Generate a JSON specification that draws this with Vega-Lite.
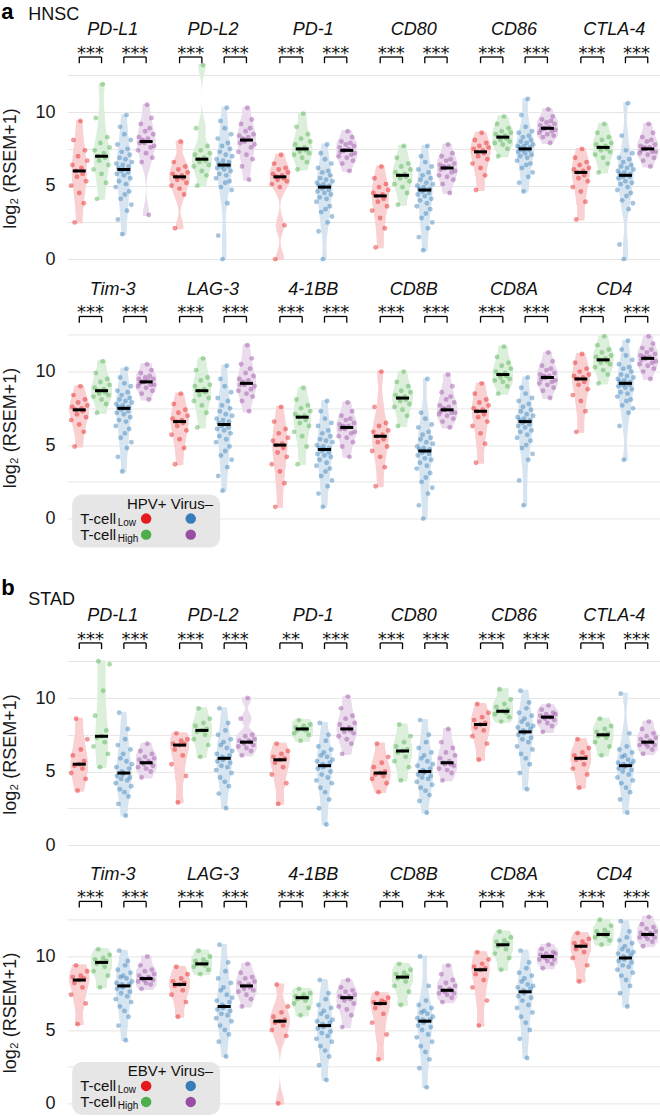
{
"$schema": "https://vega.github.io/schema/vega-lite/v6.json",
"padding": {"left": 1, "top": 0, "right": 0, "bottom": 0},
"bounds": "flush",
"spacing": 6.46,
"datasets": {
"pts": [
{"r":1,"k":"1a","s":"p0","v":[5.0,6.4,8.1,2.5,6.0,5.6,7.0,4.5,9.4,6.2,5.8,3.8,7.4,5.3,6.7]},
{"r":1,"k":"1b","s":"p1","v":[6.1,7.4,9.6,4.1,7.0,6.7,7.9,5.8,11.9,7.2,6.9,5.2,8.3,6.4,7.6]},
{"r":1,"k":"1c","s":"n0","v":[4.9,6.5,5.8,7.8,2.7,6.2,5.3,6.9,9.0,4.1,6.0,7.3,1.7,6.4,6.1,5.7,8.5,4.4,6.8,5.1,9.8,3.3,7.5,5.9,6.3,4.6,7.1,5.5,8.1,3.7,6.6]},
{"r":1,"k":"1d","s":"n1","v":[7.4,8.3,7.9,9.2,6.6,8.1,8.0,7.9,8.7,7.2,10.5,8.2,3.0,8.9,7.6,9.6,6.9,8.5,7.7]},
{"r":1,"k":"2a","s":"p0","v":[5.0,5.8,6.6,2.1,5.6,5.4,6.1,4.8,8.0,5.7,5.5,4.4,6.3,5.2,5.9]},
{"r":1,"k":"2b","s":"p1","v":[6.3,7.1,8.9,5.0,6.8,6.6,7.4,6.0,13.2,6.9,6.7,5.7,7.7,6.4,7.2]},
{"r":1,"k":"2c","s":"n0","v":[5.5,6.8,6.2,8.2,1.6,6.5,5.8,7.3,9.4,4.9,6.3,7.7,0.0,6.7,6.4,6.1,8.9,5.2,7.1,5.7,10.3,3.8,7.9,6.3,6.6,5.3,7.5,6.0,8.5,4.7,7.0]},
{"r":1,"k":"2d","s":"n1","v":[7.3,8.4,7.9,9.2,6.3,8.2,8.1,8.0,8.7,7.1,10.3,8.3,5.4,8.9,7.6,9.5,6.8,8.5,7.8]},
{"r":1,"k":"3a","s":"p0","v":[5.1,5.8,6.5,0.0,5.6,5.4,6.1,4.9,7.1,5.7,5.5,2.3,6.2,5.3,5.9]},
{"r":1,"k":"3b","s":"p1","v":[7.1,7.8,9.0,6.1,7.5,7.3,8.2,6.9,9.9,7.6,7.4,6.6,8.5,7.2,8.0]},
{"r":1,"k":"3c","s":"n0","v":[3.9,5.2,4.6,6.2,1.9,5.0,4.2,5.5,7.2,3.2,4.8,5.9,0.0,5.1,4.9,4.5,6.8,3.4,5.4,4.1,7.8,2.5,6.0,4.7,5.0,3.6,5.7,4.4,6.5,2.9,5.3]},
{"r":1,"k":"3d","s":"n1","v":[7.0,7.6,7.3,8.0,6.5,7.4,7.4,7.4,7.8,6.9,8.7,7.5,6.0,7.9,7.1,8.3,6.7,7.7,7.2]},
{"r":1,"k":"4a","s":"p0","v":[3.3,4.5,5.5,0.8,4.3,3.9,4.9,2.8,6.3,4.4,4.1,2.1,5.1,3.6,4.7]},
{"r":1,"k":"4b","s":"p1","v":[5.1,5.9,6.9,3.7,5.7,5.5,6.3,4.9,7.7,5.8,5.6,4.5,6.5,5.3,6.1]},
{"r":1,"k":"4c","s":"n0","v":[3.6,5.0,4.4,6.1,1.5,4.8,4.0,5.4,7.0,2.8,4.6,5.7,0.6,4.9,4.7,4.3,6.6,3.1,5.2,3.8,7.7,2.1,5.9,4.5,4.8,3.4,5.5,4.1,6.3,2.5,5.1]},
{"r":1,"k":"4d","s":"n1","v":[5.7,6.4,6.1,7.0,5.1,6.3,6.2,6.2,6.7,5.6,7.8,6.3,4.5,6.8,5.9,7.2,5.4,6.5,6.0]},
{"r":1,"k":"5a","s":"p0","v":[6.5,7.5,8.1,4.7,7.3,7.0,7.7,6.2,8.6,7.4,7.2,5.7,7.9,6.8,7.6]},
{"r":1,"k":"5b","s":"p1","v":[7.9,8.5,9.2,7.0,8.3,8.1,8.7,7.8,9.7,8.4,8.2,7.5,8.9,8.0,8.6]},
{"r":1,"k":"5c","s":"n0","v":[6.7,7.7,7.3,8.6,5.2,7.6,7.0,8.0,9.8,6.2,7.4,8.3,4.6,7.7,7.5,7.2,9.0,6.4,7.9,6.9,10.9,5.6,8.4,7.4,7.6,6.5,8.1,7.1,8.7,5.9,7.8]},
{"r":1,"k":"5d","s":"n1","v":[8.6,9.1,8.8,9.5,8.3,8.9,8.9,8.9,9.3,8.5,10.2,9.0,7.9,9.4,8.7,9.7,8.4,9.2,8.8]},
{"r":1,"k":"6a","s":"p0","v":[4.9,6.1,6.9,2.7,5.9,5.5,6.4,4.6,7.5,6.0,5.7,3.9,6.6,5.3,6.2]},
{"r":1,"k":"6b","s":"p1","v":[7.1,7.8,8.6,5.9,7.6,7.4,8.1,6.9,9.2,7.7,7.5,6.5,8.3,7.3,7.9]},
{"r":1,"k":"6c","s":"n0","v":[4.7,6.0,5.5,6.9,1.0,5.8,5.1,6.3,8.4,4.0,5.6,6.6,0.0,5.9,5.7,5.3,7.4,4.3,6.2,4.9,10.6,3.4,6.8,5.6,5.8,4.5,6.4,5.2,7.2,3.8,6.1]},
{"r":1,"k":"6d","s":"n1","v":[7.2,7.7,7.4,8.3,6.7,7.6,7.5,7.5,8.0,7.1,9.2,7.6,6.3,8.1,7.3,8.6,6.9,7.8,7.3]},
{"r":2,"k":"1a","s":"p0","v":[6.7,7.6,8.4,4.9,7.4,7.1,7.9,6.4,9.0,7.5,7.3,5.9,8.1,6.9,7.7]},
{"r":2,"k":"1b","s":"p1","v":[8.3,8.9,9.9,7.2,8.7,8.5,9.3,8.1,10.7,8.8,8.6,7.8,9.5,8.4,9.1]},
{"r":2,"k":"1c","s":"n0","v":[6.3,7.8,7.2,8.7,4.2,7.6,6.7,8.1,9.6,5.5,7.4,8.4,3.2,7.7,7.5,7.1,9.2,5.8,8.0,6.6,10.2,4.8,8.6,7.3,7.6,6.1,8.2,6.9,9.0,5.2,7.9]},
{"r":2,"k":"1d","s":"n1","v":[9.0,9.5,9.2,9.9,8.5,9.3,9.3,9.3,9.6,8.9,10.5,9.4,8.1,9.7,9.1,10.1,8.7,9.5,9.1]},
{"r":2,"k":"2a","s":"p0","v":[5.7,6.8,7.8,3.7,6.6,6.3,7.2,5.4,8.5,6.7,6.5,4.8,7.4,6.0,7.0]},
{"r":2,"k":"2b","s":"p1","v":[8.0,9.0,10.1,6.2,8.7,8.4,9.4,7.7,10.9,8.8,8.6,7.2,9.6,8.2,9.1]},
{"r":2,"k":"2c","s":"n0","v":[5.2,6.8,6.1,8.2,2.9,6.5,5.6,7.3,9.5,4.3,6.3,7.7,1.9,6.7,6.4,6.0,9.0,4.6,7.1,5.4,10.4,3.5,8.0,6.2,6.6,4.9,7.5,5.8,8.6,4.0,7.0]},
{"r":2,"k":"2d","s":"n1","v":[8.7,9.5,9.1,10.5,8.0,9.3,9.2,9.1,9.9,8.5,11.8,9.4,7.3,10.2,8.8,10.9,8.3,9.7,9.0]},
{"r":2,"k":"3a","s":"p0","v":[3.7,5.3,6.6,0.8,5.0,4.5,5.8,3.2,7.6,5.1,4.8,2.4,6.1,4.2,5.5]},
{"r":2,"k":"3b","s":"p1","v":[5.9,7.1,8.1,3.7,6.9,6.5,7.5,5.6,8.9,7.0,6.7,4.9,7.7,6.3,7.3]},
{"r":2,"k":"3c","s":"n0","v":[3.6,5.0,4.4,6.3,1.7,4.8,4.0,5.4,7.3,2.9,4.6,5.8,0.8,4.9,4.7,4.3,6.8,3.2,5.3,3.8,8.0,2.2,6.0,4.5,4.8,3.4,5.6,4.2,6.5,2.6,5.2]},
{"r":2,"k":"3d","s":"n1","v":[5.6,6.4,6.1,7.0,4.9,6.3,6.2,6.1,6.7,5.5,7.9,6.3,4.2,6.8,5.8,7.3,5.2,6.5,5.9]},
{"r":2,"k":"4a","s":"p0","v":[4.6,5.9,7.6,2.2,5.6,5.2,6.3,4.2,10.0,5.7,5.4,3.5,6.5,4.9,6.0]},
{"r":2,"k":"4b","s":"p1","v":[7.6,8.4,9.3,6.3,8.2,8.0,8.7,7.4,10.0,8.3,8.1,7.0,9.0,7.8,8.6]},
{"r":2,"k":"4c","s":"n0","v":[3.4,4.9,4.3,6.2,0.9,4.7,3.8,5.4,7.2,2.5,4.5,5.7,0.0,4.8,4.6,4.1,6.8,2.8,5.2,3.6,9.5,1.7,5.9,4.4,4.7,3.1,5.5,4.0,6.4,2.1,5.1]},
{"r":2,"k":"4d","s":"n1","v":[7.1,7.7,7.3,8.6,6.6,7.5,7.4,7.4,8.1,7.0,9.8,7.6,6.2,8.3,7.2,9.0,6.8,7.9,7.2]},
{"r":2,"k":"5a","s":"p0","v":[6.3,7.5,8.5,3.8,7.3,6.9,7.9,5.8,9.2,7.4,7.1,5.1,8.1,6.6,7.7]},
{"r":2,"k":"5b","s":"p1","v":[9.4,10.0,11.0,8.5,9.8,9.6,10.4,9.3,11.7,9.9,9.7,9.0,10.6,9.5,10.2]},
{"r":2,"k":"5c","s":"n0","v":[5.5,6.9,6.3,8.0,2.6,6.7,5.9,7.3,8.9,4.8,6.5,7.6,0.9,6.8,6.6,6.2,8.5,5.0,7.1,5.7,9.6,4.0,7.8,6.4,6.7,5.3,7.4,6.0,8.2,4.4,7.0]},
{"r":2,"k":"5d","s":"n1","v":[9.2,9.8,9.5,10.4,8.7,9.7,9.6,9.6,10.1,9.1,11.3,9.7,8.2,10.2,9.3,10.7,8.9,9.9,9.4]},
{"r":2,"k":"6a","s":"p0","v":[8.4,9.7,10.6,5.9,9.5,9.1,10.0,8.0,11.2,9.6,9.3,7.3,10.2,8.8,9.8]},
{"r":2,"k":"6b","s":"p1","v":[10.3,11.0,11.8,9.2,10.8,10.6,11.3,10.1,12.4,10.9,10.7,9.8,11.5,10.5,11.1]},
{"r":2,"k":"6c","s":"n0","v":[8.3,9.5,9.0,10.5,6.3,9.3,8.6,9.8,11.5,7.7,9.1,10.2,4.0,9.4,9.2,8.9,11.1,8.0,9.7,8.5,12.1,7.2,10.3,9.1,9.3,8.1,10.0,8.8,10.8,7.5,9.6]},
{"r":2,"k":"6d","s":"n1","v":[10.5,11.1,10.8,11.6,10.0,11.0,10.9,10.9,11.3,10.4,12.4,11.0,9.5,11.5,10.6,11.9,10.2,11.2,10.7]},
{"r":3,"k":"1a","s":"p0","v":[4.9,6.1,5.4,8.6,3.7,5.5,6.5,5.2,5.7,4.5,7.2]},
{"r":3,"k":"1b","s":"p1","v":[6.7,8.8,7.3,12.5,5.3,7.4,10.5,7.0,7.8,6.2,12.3]},
{"r":3,"k":"1c","s":"n0","v":[4.2,5.3,4.7,6.8,2.8,9.0,3.8,5.9,4.5,5.0,4.8,6.2,4.9,3.6,7.2,2.0,5.7,4.4,7.9,3.3,5.2,4.6,6.5,4.0,5.5]},
{"r":3,"k":"1d","s":"n1","v":[5.3,5.8,6.4,4.6,5.6,5.5,6.0,5.2,6.9,5.7,5.6,5.0,6.2,5.4,5.9]},
{"r":3,"k":"2a","s":"p0","v":[5.5,6.9,6.5,7.6,2.9,6.8,7.1,6.1,6.9,4.7,7.2]},
{"r":3,"k":"2b","s":"p1","v":[7.2,8.1,7.7,9.3,6.0,7.8,8.3,7.5,7.9,6.8,8.6]},
{"r":3,"k":"2c","s":"n0","v":[5.1,6.2,5.7,7.5,3.5,9.3,4.6,6.8,5.4,6.0,5.8,7.0,5.9,4.3,7.8,2.5,6.6,5.3,8.3,4.0,6.1,5.6,7.2,4.9,6.4]},
{"r":3,"k":"2d","s":"n1","v":[6.7,7.1,8.6,6.1,7.0,6.9,7.4,6.6,10.0,7.1,7.0,6.4,7.5,6.8,7.2]},
{"r":3,"k":"3a","s":"p0","v":[4.8,6.0,5.6,6.9,2.8,5.8,6.2,5.3,5.9,4.2,6.4]},
{"r":3,"k":"3b","s":"p1","v":[7.6,8.0,7.8,8.5,7.1,7.9,8.1,7.8,7.9,7.5,8.2]},
{"r":3,"k":"3c","s":"n0","v":[4.4,5.7,5.2,6.7,2.5,8.3,3.9,6.1,4.8,5.5,5.3,6.3,5.4,3.6,7.1,1.4,6.0,4.6,7.5,3.1,5.6,5.0,6.5,4.2,5.8]},
{"r":3,"k":"3d","s":"n1","v":[7.4,8.2,9.3,6.2,7.9,7.7,8.6,7.2,10.1,8.0,7.8,6.9,8.8,7.6,8.3]},
{"r":3,"k":"4a","s":"p0","v":[4.5,5.3,4.8,6.9,3.6,4.9,5.6,4.7,5.0,4.2,6.0]},
{"r":3,"k":"4b","s":"p1","v":[5.7,6.7,6.3,8.2,4.4,6.4,7.0,6.0,6.5,5.3,7.4]},
{"r":3,"k":"4c","s":"n0","v":[4.3,5.4,4.8,6.6,3.0,8.5,3.9,5.9,4.6,5.1,4.9,6.1,5.0,3.7,7.0,2.2,5.7,4.5,7.5,3.4,5.2,4.7,6.3,4.1,5.5]},
{"r":3,"k":"4d","s":"n1","v":[5.2,5.9,7.0,4.4,5.6,5.5,6.3,5.1,7.9,5.7,5.5,4.9,6.6,5.4,6.1]},
{"r":3,"k":"5a","s":"p0","v":[7.4,8.5,8.0,9.6,5.8,8.2,8.7,7.8,8.3,6.9,9.0]},
{"r":3,"k":"5b","s":"p1","v":[8.9,9.4,9.1,10.6,8.4,9.1,9.6,9.0,9.2,8.7,9.9]},
{"r":3,"k":"5c","s":"n0","v":[6.7,8.0,7.5,9.0,4.9,10.5,6.2,8.4,7.2,7.8,7.6,8.6,7.7,5.9,9.3,3.8,8.2,7.0,9.7,5.5,7.9,7.3,8.8,6.5,8.1]},
{"r":3,"k":"5d","s":"n1","v":[8.4,8.8,9.2,7.7,8.7,8.6,8.9,8.3,9.5,8.7,8.7,8.1,9.0,8.5,8.9]},
{"r":3,"k":"6a","s":"p0","v":[5.2,6.1,5.8,7.2,3.9,5.9,6.3,5.5,6.0,4.8,6.6]},
{"r":3,"k":"6b","s":"p1","v":[7.0,7.7,7.4,8.6,6.1,7.5,7.9,7.3,7.6,6.7,8.1]},
{"r":3,"k":"6c","s":"n0","v":[4.6,5.6,5.2,6.5,3.1,10.3,4.2,6.0,5.0,5.5,5.3,6.1,5.4,3.9,6.7,2.2,5.8,4.8,7.6,3.6,5.5,5.1,6.3,4.4,5.7]},
{"r":3,"k":"6d","s":"n1","v":[6.8,7.2,7.9,6.2,7.0,6.9,7.4,6.7,8.4,7.1,7.0,6.5,7.6,6.8,7.3]},
{"r":4,"k":"1a","s":"p0","v":[7.4,8.6,8.2,9.4,5.4,8.4,8.7,7.9,8.5,6.8,9.0]},
{"r":4,"k":"1b","s":"p1","v":[9.0,9.8,9.5,10.5,7.9,9.6,9.9,9.3,9.7,8.7,10.1]},
{"r":4,"k":"1c","s":"n0","v":[7.1,8.2,7.8,9.1,5.3,10.4,6.6,8.6,7.5,8.1,7.9,8.7,8.0,6.3,9.4,4.3,8.5,7.3,9.7,5.9,8.1,7.6,8.9,6.9,8.3]},
{"r":4,"k":"1d","s":"n1","v":[8.3,8.7,9.4,7.8,8.5,8.4,9.0,8.2,10.0,8.6,8.5,8.1,9.1,8.4,8.8]},
{"r":4,"k":"2a","s":"p0","v":[7.4,8.3,8.0,9.3,5.9,8.1,8.5,7.7,8.2,6.9,8.8]},
{"r":4,"k":"2b","s":"p1","v":[9.3,9.7,9.5,10.4,8.8,9.5,9.8,9.4,9.6,9.1,10.0]},
{"r":4,"k":"2c","s":"n0","v":[5.8,7.0,6.4,8.5,4.2,10.8,5.3,7.7,6.1,6.7,6.5,7.9,6.6,5.0,9.0,3.2,7.4,6.0,9.6,4.7,6.9,6.3,8.2,5.6,7.2]},
{"r":4,"k":"2d","s":"n1","v":[7.6,8.2,8.9,6.6,8.0,7.8,8.5,7.4,9.5,8.1,7.9,7.1,8.6,7.7,8.3]},
{"r":4,"k":"3a","s":"p0","v":[5.0,5.9,5.5,8.1,0.0,5.6,6.2,5.3,5.7,4.6,6.6]},
{"r":4,"k":"3b","s":"p1","v":[6.8,7.3,7.1,7.8,6.0,7.2,7.4,7.0,7.2,6.5,7.5]},
{"r":4,"k":"3c","s":"n0","v":[4.4,5.6,5.1,6.7,2.6,8.4,3.9,6.1,4.8,5.4,5.2,6.3,5.3,3.6,7.1,1.6,5.9,4.6,7.5,3.2,5.5,4.9,6.5,4.2,5.7]},
{"r":4,"k":"3d","s":"n1","v":[6.6,7.3,7.9,5.2,7.2,7.0,7.6,6.4,8.4,7.3,7.1,6.0,7.7,6.8,7.4]},
{"r":4,"k":"4a","s":"p0","v":[5.5,6.9,6.5,7.5,3.0,6.8,7.0,6.1,6.9,4.7,7.2]},
{"r":4,"k":"4b","s":"p1","v":[8.0,8.8,8.5,9.5,6.7,8.6,8.9,8.3,8.7,7.6,9.1]},
{"r":4,"k":"4c","s":"n0","v":[4.5,5.8,5.3,6.7,2.4,10.0,3.9,6.2,5.0,5.7,5.5,6.3,5.6,3.5,7.0,1.1,6.1,4.7,8.0,3.0,5.7,5.2,6.5,4.2,5.9]},
{"r":4,"k":"4d","s":"n1","v":[7.5,7.9,8.8,6.9,7.7,7.6,8.2,7.4,9.4,7.8,7.7,7.2,8.4,7.5,8.0]},
{"r":4,"k":"5a","s":"p0","v":[7.9,9.3,8.8,10.3,5.3,9.1,9.5,8.4,9.2,7.0,9.8]},
{"r":4,"k":"5b","s":"p1","v":[10.2,11.0,10.7,11.7,9.1,10.8,11.1,10.5,10.9,9.9,11.3]},
{"r":4,"k":"5c","s":"n0","v":[6.5,7.9,7.3,8.9,4.4,10.4,5.9,8.3,7.0,7.7,7.5,8.5,7.6,5.5,9.2,3.1,8.1,6.7,9.6,5.0,7.8,7.2,8.7,6.2,8.0]},
{"r":4,"k":"5d","s":"n1","v":[9.8,10.1,10.5,9.2,10.0,9.9,10.2,9.7,10.8,10.0,10.0,9.5,10.3,9.8,10.2]},
{"r":4,"k":"6a","s":"p0","v":[9.9,10.9,10.5,11.6,8.3,10.7,11.0,10.3,10.8,9.4,11.2]},
{"r":4,"k":"6b","s":"p1","v":[11.3,11.7,11.5,12.5,10.8,11.5,11.8,11.4,11.6,11.1,12.1]},
{"r":4,"k":"6c","s":"n0","v":[9.1,10.2,9.7,11.1,7.5,12.4,8.7,10.5,9.4,10.0,9.8,10.7,9.9,8.4,11.3,6.6,10.4,9.3,11.7,8.0,10.1,9.6,10.9,8.9,10.3]},
{"r":4,"k":"6d","s":"n1","v":[11.3,11.6,12.2,10.7,11.5,11.4,11.9,11.2,12.7,11.6,11.5,11.0,12.0,11.3,11.7]}
],
"genes": [
{"r":1,"k":"1b_","g":"PD-L1"},{"r":1,"k":"2b_","g":"PD-L2"},{"r":1,"k":"3b_","g":"PD-1"},{"r":1,"k":"4b_","g":"CD80"},{"r":1,"k":"5b_","g":"CD86"},{"r":1,"k":"6b_","g":"CTLA-4"},
{"r":2,"k":"1b_","g":"Tim-3"},{"r":2,"k":"2b_","g":"LAG-3"},{"r":2,"k":"3b_","g":"4-1BB"},{"r":2,"k":"4b_","g":"CD8B"},{"r":2,"k":"5b_","g":"CD8A"},{"r":2,"k":"6b_","g":"CD4"},
{"r":3,"k":"1b_","g":"PD-L1"},{"r":3,"k":"2b_","g":"PD-L2"},{"r":3,"k":"3b_","g":"PD-1"},{"r":3,"k":"4b_","g":"CD80"},{"r":3,"k":"5b_","g":"CD86"},{"r":3,"k":"6b_","g":"CTLA-4"},
{"r":4,"k":"1b_","g":"Tim-3"},{"r":4,"k":"2b_","g":"LAG-3"},{"r":4,"k":"3b_","g":"4-1BB"},{"r":4,"k":"4b_","g":"CD8B"},{"r":4,"k":"5b_","g":"CD8A"},{"r":4,"k":"6b_","g":"CD4"}
],
"sig": [
{"r":1,"a":"1a","b":"1b","m":"1a_","t":"***"},{"r":1,"a":"1c","b":"1d","m":"1c_","t":"***"},
{"r":1,"a":"2a","b":"2b","m":"2a_","t":"***"},{"r":1,"a":"2c","b":"2d","m":"2c_","t":"***"},
{"r":1,"a":"3a","b":"3b","m":"3a_","t":"***"},{"r":1,"a":"3c","b":"3d","m":"3c_","t":"***"},
{"r":1,"a":"4a","b":"4b","m":"4a_","t":"***"},{"r":1,"a":"4c","b":"4d","m":"4c_","t":"***"},
{"r":1,"a":"5a","b":"5b","m":"5a_","t":"***"},{"r":1,"a":"5c","b":"5d","m":"5c_","t":"***"},
{"r":1,"a":"6a","b":"6b","m":"6a_","t":"***"},{"r":1,"a":"6c","b":"6d","m":"6c_","t":"***"},
{"r":2,"a":"1a","b":"1b","m":"1a_","t":"***"},{"r":2,"a":"1c","b":"1d","m":"1c_","t":"***"},
{"r":2,"a":"2a","b":"2b","m":"2a_","t":"***"},{"r":2,"a":"2c","b":"2d","m":"2c_","t":"***"},
{"r":2,"a":"3a","b":"3b","m":"3a_","t":"***"},{"r":2,"a":"3c","b":"3d","m":"3c_","t":"***"},
{"r":2,"a":"4a","b":"4b","m":"4a_","t":"***"},{"r":2,"a":"4c","b":"4d","m":"4c_","t":"***"},
{"r":2,"a":"5a","b":"5b","m":"5a_","t":"***"},{"r":2,"a":"5c","b":"5d","m":"5c_","t":"***"},
{"r":2,"a":"6a","b":"6b","m":"6a_","t":"***"},{"r":2,"a":"6c","b":"6d","m":"6c_","t":"***"},
{"r":3,"a":"1a","b":"1b","m":"1a_","t":"***"},{"r":3,"a":"1c","b":"1d","m":"1c_","t":"***"},
{"r":3,"a":"2a","b":"2b","m":"2a_","t":"***"},{"r":3,"a":"2c","b":"2d","m":"2c_","t":"***"},
{"r":3,"a":"3a","b":"3b","m":"3a_","t":"**"},{"r":3,"a":"3c","b":"3d","m":"3c_","t":"***"},
{"r":3,"a":"4a","b":"4b","m":"4a_","t":"***"},{"r":3,"a":"4c","b":"4d","m":"4c_","t":"***"},
{"r":3,"a":"5a","b":"5b","m":"5a_","t":"***"},{"r":3,"a":"5c","b":"5d","m":"5c_","t":"***"},
{"r":3,"a":"6a","b":"6b","m":"6a_","t":"***"},{"r":3,"a":"6c","b":"6d","m":"6c_","t":"***"},
{"r":4,"a":"1a","b":"1b","m":"1a_","t":"***"},{"r":4,"a":"1c","b":"1d","m":"1c_","t":"***"},
{"r":4,"a":"2a","b":"2b","m":"2a_","t":"***"},{"r":4,"a":"2c","b":"2d","m":"2c_","t":"***"},
{"r":4,"a":"3a","b":"3b","m":"3a_","t":"***"},{"r":4,"a":"3c","b":"3d","m":"3c_","t":"***"},
{"r":4,"a":"4a","b":"4b","m":"4a_","t":"**"},{"r":4,"a":"4c","b":"4d","m":"4c_","t":"**"},
{"r":4,"a":"5a","b":"5b","m":"5a_","t":"***"},{"r":4,"a":"5c","b":"5d","m":"5c_","t":"**"},
{"r":4,"a":"6a","b":"6b","m":"6a_","t":"***"},{"r":4,"a":"6c","b":"6d","m":"6c_","t":"***"}
]
},
"vconcat": [
{
"width": 593, "height": 252.84,
"resolve": {"scale": {"color": "independent"}},
"layer": [
{"data": {"name": "pts"}, "transform": [{"filter": "datum.r === 1"}, {"flatten": ["v"]}, {"density": "v", "groupby": ["k", "s"], "steps": 100, "resolve": "independent"}],
 "mark": {"type": "tick", "thickness": 2, "opacity": 1},
 "encoding": {
  "x": {"field": "k", "type": "nominal", "scale": {"domain": ["1a","1a_","1b","1b_","1c","1c_","1d","1s","1s_","2a","2a_","2b","2b_","2c","2c_","2d","2s","2s_","3a","3a_","3b","3b_","3c","3c_","3d","3s","3s_","4a","4a_","4b","4b_","4c","4c_","4d","4s","4s_","5a","5a_","5b","5b_","5c","5c_","5d","5s","5s_","6a","6a_","6b","6b_","6c","6c_","6d"], "paddingInner": 0, "paddingOuter": 0.6}, "axis": null},
  "y": {"field": "value", "type": "quantitative", "scale": {"domain": [-1, 16.2], "nice": false, "zero": false}, "axis": {"title": "log₂ (RSEM+1)", "values": [0, 2.5, 5, 7.5, 10, 12.5], "labelExpr": "datum.value % 5 === 0 ? datum.label : ''"}},
  "size": {"field": "density", "type": "quantitative", "scale": {"type": "pow", "exponent": 0.5, "domain": [0, 0.45], "range": [0, 20], "clamp": true}, "legend": null},
  "color": {"field": "s", "type": "nominal", "scale": {"domain": ["p0","p1","n0","n1"], "range": ["#fad1d2","#dbefdb","#d7e5f1","#eadced"]}, "legend": null}
 }},
{"data": {"name": "pts"}, "transform": [{"filter": "datum.r === 1"}, {"flatten": ["v"]}, {"window": [{"op": "row_number", "as": "i"}], "groupby": ["k"]}, {"window": [{"op": "percent_rank", "as": "j"}], "groupby": ["k"], "sort": [{"field": "i", "order": "ascending"}]}],
 "mark": {"type": "circle", "size": 24, "opacity": 0.45},
 "encoding": {
  "x": {"field": "k", "type": "nominal", "axis": null},
  "xOffset": {"field": "j", "type": "quantitative", "scale": {"domain": [0, 1], "range": [-2.5, 13.6]}},
  "y": {"field": "v", "type": "quantitative"},
  "color": {"field": "s", "type": "nominal", "scale": {"domain": ["p0","p1","n0","n1"], "range": ["#e41a1c","#4daf4a","#377eb8","#984ea3"]}, "legend": null}
 }},
{"data": {"name": "pts"}, "transform": [{"filter": "datum.r === 1"}, {"flatten": ["v"]}],
 "mark": {"type": "tick", "color": "#000", "size": 13, "thickness": 3, "opacity": 1},
 "encoding": {"x": {"field": "k", "type": "nominal", "axis": null}, "y": {"aggregate": "median", "field": "v", "type": "quantitative"}}},
{"data": {"name": "sig"}, "transform": [{"filter": "datum.r === 1"}],
 "mark": {"type": "rule", "color": "#000", "strokeWidth": 1.3},
 "encoding": {"x": {"field": "a", "type": "nominal", "axis": null}, "x2": {"field": "b"}, "y": {"datum": 13.75}}},
{"data": {"name": "sig"}, "transform": [{"filter": "datum.r === 1"}],
 "mark": {"type": "rule", "color": "#000", "strokeWidth": 1.3},
 "encoding": {"x": {"field": "a", "type": "nominal", "axis": null}, "y": {"datum": 13.75}, "y2": {"datum": 13.33}}},
{"data": {"name": "sig"}, "transform": [{"filter": "datum.r === 1"}],
 "mark": {"type": "rule", "color": "#000", "strokeWidth": 1.3},
 "encoding": {"x": {"field": "b", "type": "nominal", "axis": null}, "y": {"datum": 13.75}, "y2": {"datum": 13.33}}},
{"data": {"name": "sig"}, "transform": [{"filter": "datum.r === 1"}],
 "mark": {"type": "text", "font": "DejaVu Sans", "fontSize": 18, "baseline": "alphabetic", "color": "#111"},
 "encoding": {"x": {"field": "m", "type": "nominal", "axis": null}, "y": {"datum": 13.62}, "text": {"field": "t"}}},
{"data": {"name": "genes"}, "transform": [{"filter": "datum.r === 1"}],
 "mark": {"type": "text", "fontSize": 18, "fontStyle": "italic", "baseline": "alphabetic", "color": "#111"},
 "encoding": {"x": {"field": "k", "type": "nominal", "axis": null}, "y": {"datum": 15.22}, "text": {"field": "g"}}},
{"data": {"values": [{}]},
 "mark": {"type": "text", "text": "a", "fontSize": 22, "fontWeight": "bold", "align": "left", "baseline": "alphabetic", "dx": -78, "color": "#000"},
 "encoding": {"x": {"datum": "1a", "axis": null}, "y": {"datum": 16.37}}},
{"data": {"values": [{}]},
 "mark": {"type": "text", "text": "HNSC", "fontSize": 18, "align": "left", "baseline": "alphabetic", "dx": -51, "color": "#111"},
 "encoding": {"x": {"datum": "1a", "axis": null}, "y": {"datum": 16.3}}}
]
},
{
"width": 593, "height": 319.58,
"resolve": {"scale": {"color": "independent"}},
"layer": [
{"data": {"name": "pts"}, "transform": [{"filter": "datum.r === 2"}, {"flatten": ["v"]}, {"density": "v", "groupby": ["k", "s"], "steps": 100, "resolve": "independent"}],
 "mark": {"type": "tick", "thickness": 2, "opacity": 1},
 "encoding": {
  "x": {"field": "k", "type": "nominal", "scale": {"domain": ["1a","1a_","1b","1b_","1c","1c_","1d","1s","1s_","2a","2a_","2b","2b_","2c","2c_","2d","2s","2s_","3a","3a_","3b","3b_","3c","3c_","3d","3s","3s_","4a","4a_","4b","4b_","4c","4c_","4d","4s","4s_","5a","5a_","5b","5b_","5c","5c_","5d","5s","5s_","6a","6a_","6b","6b_","6c","6c_","6d"], "paddingInner": 0, "paddingOuter": 0.6}, "axis": null},
  "y": {"field": "value", "type": "quantitative", "scale": {"domain": [-5.54, 16.2], "nice": false, "zero": false}, "axis": {"title": "log₂ (RSEM+1)", "values": [0, 2.5, 5, 7.5, 10, 12.5], "labelExpr": "datum.value % 5 === 0 ? datum.label : ''"}},
  "size": {"field": "density", "type": "quantitative", "scale": {"type": "pow", "exponent": 0.5, "domain": [0, 0.45], "range": [0, 20], "clamp": true}, "legend": null},
  "color": {"field": "s", "type": "nominal", "scale": {"domain": ["p0","p1","n0","n1"], "range": ["#fad1d2","#dbefdb","#d7e5f1","#eadced"]}, "legend": null}
 }},
{"data": {"name": "pts"}, "transform": [{"filter": "datum.r === 2"}, {"flatten": ["v"]}, {"window": [{"op": "row_number", "as": "i"}], "groupby": ["k"]}, {"window": [{"op": "percent_rank", "as": "j"}], "groupby": ["k"], "sort": [{"field": "i", "order": "ascending"}]}],
 "mark": {"type": "circle", "size": 24, "opacity": 0.45},
 "encoding": {
  "x": {"field": "k", "type": "nominal", "axis": null},
  "xOffset": {"field": "j", "type": "quantitative", "scale": {"domain": [0, 1], "range": [-2.5, 13.6]}},
  "y": {"field": "v", "type": "quantitative"},
  "color": {"field": "s", "type": "nominal", "scale": {"domain": ["p0","p1","n0","n1"], "range": ["#e41a1c","#4daf4a","#377eb8","#984ea3"]}, "legend": null}
 }},
{"data": {"name": "pts"}, "transform": [{"filter": "datum.r === 2"}, {"flatten": ["v"]}],
 "mark": {"type": "tick", "color": "#000", "size": 13, "thickness": 3, "opacity": 1},
 "encoding": {"x": {"field": "k", "type": "nominal", "axis": null}, "y": {"aggregate": "median", "field": "v", "type": "quantitative"}}},
{"data": {"name": "sig"}, "transform": [{"filter": "datum.r === 2"}],
 "mark": {"type": "rule", "color": "#000", "strokeWidth": 1.3},
 "encoding": {"x": {"field": "a", "type": "nominal", "axis": null}, "x2": {"field": "b"}, "y": {"datum": 13.75}}},
{"data": {"name": "sig"}, "transform": [{"filter": "datum.r === 2"}],
 "mark": {"type": "rule", "color": "#000", "strokeWidth": 1.3},
 "encoding": {"x": {"field": "a", "type": "nominal", "axis": null}, "y": {"datum": 13.75}, "y2": {"datum": 13.33}}},
{"data": {"name": "sig"}, "transform": [{"filter": "datum.r === 2"}],
 "mark": {"type": "rule", "color": "#000", "strokeWidth": 1.3},
 "encoding": {"x": {"field": "b", "type": "nominal", "axis": null}, "y": {"datum": 13.75}, "y2": {"datum": 13.33}}},
{"data": {"name": "sig"}, "transform": [{"filter": "datum.r === 2"}],
 "mark": {"type": "text", "font": "DejaVu Sans", "fontSize": 18, "baseline": "alphabetic", "color": "#111"},
 "encoding": {"x": {"field": "m", "type": "nominal", "axis": null}, "y": {"datum": 13.62}, "text": {"field": "t"}}},
{"data": {"name": "genes"}, "transform": [{"filter": "datum.r === 2"}],
 "mark": {"type": "text", "fontSize": 18, "fontStyle": "italic", "baseline": "alphabetic", "color": "#111"},
 "encoding": {"x": {"field": "k", "type": "nominal", "axis": null}, "y": {"datum": 15.22}, "text": {"field": "g"}}},
{"data": {"values": [{}]},
 "mark": {"type": "point", "shape": "M-0.84,-0.358H0.84Q1,-0.358 1,-0.198V0.198Q1,0.358 0.84,0.358H-0.84Q-1,0.358 -1,0.198V-0.198Q-1,-0.358 -0.84,-0.358Z", "size": 21904, "filled": true, "color": "#e6e6e6", "opacity": 1, "strokeWidth": 0},
 "encoding": {"x": {"datum": "1d", "axis": null}, "y": {"datum": -0.17}}},
{"data": {"values": [{}]},
 "mark": {"type": "text", "text": "HPV+ Virus–", "fontSize": 15, "align": "right", "baseline": "middle", "color": "#111"},
 "encoding": {"x": {"datum": "2b_", "axis": null}, "y": {"datum": 1.02}}},
{"data": {"values": [{}]},
 "mark": {"type": "text", "text": "T-cell", "fontSize": 15, "align": "left", "baseline": "middle", "dx": 1, "color": "#111"},
 "encoding": {"x": {"datum": "1a", "axis": null}, "y": {"datum": 0}}},
{"data": {"values": [{}]},
 "mark": {"type": "text", "text": "T-cell", "fontSize": 15, "align": "left", "baseline": "middle", "dx": 1, "color": "#111"},
 "encoding": {"x": {"datum": "1a", "axis": null}, "y": {"datum": -1.09}}},
{"data": {"values": [{}]},
 "mark": {"type": "text", "text": "Low", "fontSize": 10, "align": "left", "baseline": "middle", "dx": 5, "color": "#111"},
 "encoding": {"x": {"datum": "1b_", "axis": null}, "y": {"datum": -0.3}}},
{"data": {"values": [{}]},
 "mark": {"type": "text", "text": "High", "fontSize": 10, "align": "left", "baseline": "middle", "dx": 5, "color": "#111"},
 "encoding": {"x": {"datum": "1b_", "axis": null}, "y": {"datum": -1.39}}},
{"data": {"values": [{}]}, "mark": {"type": "circle", "size": 110, "color": "#e41a1c", "opacity": 1},
 "encoding": {"x": {"datum": "1d", "axis": null}, "y": {"datum": 0}}},
{"data": {"values": [{}]}, "mark": {"type": "circle", "size": 110, "color": "#377eb8", "opacity": 1},
 "encoding": {"x": {"datum": "2a_", "axis": null}, "y": {"datum": 0}}},
{"data": {"values": [{}]}, "mark": {"type": "circle", "size": 110, "color": "#4daf4a", "opacity": 1},
 "encoding": {"x": {"datum": "1d", "axis": null}, "y": {"datum": -1.09}}},
{"data": {"values": [{}]}, "mark": {"type": "circle", "size": 110, "color": "#984ea3", "opacity": 1},
 "encoding": {"x": {"datum": "2a_", "axis": null}, "y": {"datum": -1.09}}}
]
},
{
"width": 593, "height": 251.81,
"resolve": {"scale": {"color": "independent"}},
"layer": [
{"data": {"name": "pts"}, "transform": [{"filter": "datum.r === 3"}, {"flatten": ["v"]}, {"density": "v", "groupby": ["k", "s"], "steps": 100, "resolve": "independent"}],
 "mark": {"type": "tick", "thickness": 2, "opacity": 1},
 "encoding": {
  "x": {"field": "k", "type": "nominal", "scale": {"domain": ["1a","1a_","1b","1b_","1c","1c_","1d","1s","1s_","2a","2a_","2b","2b_","2c","2c_","2d","2s","2s_","3a","3a_","3b","3b_","3c","3c_","3d","3s","3s_","4a","4a_","4b","4b_","4c","4c_","4d","4s","4s_","5a","5a_","5b","5b_","5c","5c_","5d","5s","5s_","6a","6a_","6b","6b_","6c","6c_","6d"], "paddingInner": 0, "paddingOuter": 0.6}, "axis": null},
  "y": {"field": "value", "type": "quantitative", "scale": {"domain": [-0.93, 16.2], "nice": false, "zero": false}, "axis": {"title": "log₂ (RSEM+1)", "values": [0, 2.5, 5, 7.5, 10, 12.5], "labelExpr": "datum.value % 5 === 0 ? datum.label : ''"}},
  "size": {"field": "density", "type": "quantitative", "scale": {"type": "pow", "exponent": 0.5, "domain": [0, 0.45], "range": [0, 20], "clamp": true}, "legend": null},
  "color": {"field": "s", "type": "nominal", "scale": {"domain": ["p0","p1","n0","n1"], "range": ["#fad1d2","#dbefdb","#d7e5f1","#eadced"]}, "legend": null}
 }},
{"data": {"name": "pts"}, "transform": [{"filter": "datum.r === 3"}, {"flatten": ["v"]}, {"window": [{"op": "row_number", "as": "i"}], "groupby": ["k"]}, {"window": [{"op": "percent_rank", "as": "j"}], "groupby": ["k"], "sort": [{"field": "i", "order": "ascending"}]}],
 "mark": {"type": "circle", "size": 24, "opacity": 0.45},
 "encoding": {
  "x": {"field": "k", "type": "nominal", "axis": null},
  "xOffset": {"field": "j", "type": "quantitative", "scale": {"domain": [0, 1], "range": [-2.5, 13.6]}},
  "y": {"field": "v", "type": "quantitative"},
  "color": {"field": "s", "type": "nominal", "scale": {"domain": ["p0","p1","n0","n1"], "range": ["#e41a1c","#4daf4a","#377eb8","#984ea3"]}, "legend": null}
 }},
{"data": {"name": "pts"}, "transform": [{"filter": "datum.r === 3"}, {"flatten": ["v"]}],
 "mark": {"type": "tick", "color": "#000", "size": 13, "thickness": 3, "opacity": 1},
 "encoding": {"x": {"field": "k", "type": "nominal", "axis": null}, "y": {"aggregate": "median", "field": "v", "type": "quantitative"}}},
{"data": {"name": "sig"}, "transform": [{"filter": "datum.r === 3"}],
 "mark": {"type": "rule", "color": "#000", "strokeWidth": 1.3},
 "encoding": {"x": {"field": "a", "type": "nominal", "axis": null}, "x2": {"field": "b"}, "y": {"datum": 13.75}}},
{"data": {"name": "sig"}, "transform": [{"filter": "datum.r === 3"}],
 "mark": {"type": "rule", "color": "#000", "strokeWidth": 1.3},
 "encoding": {"x": {"field": "a", "type": "nominal", "axis": null}, "y": {"datum": 13.75}, "y2": {"datum": 13.33}}},
{"data": {"name": "sig"}, "transform": [{"filter": "datum.r === 3"}],
 "mark": {"type": "rule", "color": "#000", "strokeWidth": 1.3},
 "encoding": {"x": {"field": "b", "type": "nominal", "axis": null}, "y": {"datum": 13.75}, "y2": {"datum": 13.33}}},
{"data": {"name": "sig"}, "transform": [{"filter": "datum.r === 3"}],
 "mark": {"type": "text", "font": "DejaVu Sans", "fontSize": 18, "baseline": "alphabetic", "color": "#111"},
 "encoding": {"x": {"field": "m", "type": "nominal", "axis": null}, "y": {"datum": 13.62}, "text": {"field": "t"}}},
{"data": {"name": "genes"}, "transform": [{"filter": "datum.r === 3"}],
 "mark": {"type": "text", "fontSize": 18, "fontStyle": "italic", "baseline": "alphabetic", "color": "#111"},
 "encoding": {"x": {"field": "k", "type": "nominal", "axis": null}, "y": {"datum": 15.22}, "text": {"field": "g"}}},
{"data": {"values": [{}]},
 "mark": {"type": "text", "text": "b", "fontSize": 22, "fontWeight": "bold", "align": "left", "baseline": "alphabetic", "dx": -78, "color": "#000"},
 "encoding": {"x": {"datum": "1a", "axis": null}, "y": {"datum": 17.0}}},
{"data": {"values": [{}]},
 "mark": {"type": "text", "text": "STAD", "fontSize": 18, "align": "left", "baseline": "alphabetic", "dx": -51, "color": "#111"},
 "encoding": {"x": {"datum": "1a", "axis": null}, "y": {"datum": 16.33}}}
]
},
{
"width": 593, "height": 250.64,
"resolve": {"scale": {"color": "independent"}},
"layer": [
{"data": {"name": "pts"}, "transform": [{"filter": "datum.r === 4"}, {"flatten": ["v"]}, {"density": "v", "groupby": ["k", "s"], "steps": 100, "resolve": "independent"}],
 "mark": {"type": "tick", "thickness": 2, "opacity": 1},
 "encoding": {
  "x": {"field": "k", "type": "nominal", "scale": {"domain": ["1a","1a_","1b","1b_","1c","1c_","1d","1s","1s_","2a","2a_","2b","2b_","2c","2c_","2d","2s","2s_","3a","3a_","3b","3b_","3c","3c_","3d","3s","3s_","4a","4a_","4b","4b_","4c","4c_","4d","4s","4s_","5a","5a_","5b","5b_","5c","5c_","5d","5s","5s_","6a","6a_","6b","6b_","6c","6c_","6d"], "paddingInner": 0, "paddingOuter": 0.6}, "axis": null},
  "y": {"field": "value", "type": "quantitative", "scale": {"domain": [-0.85, 16.2], "nice": false, "zero": false}, "axis": {"title": "log₂ (RSEM+1)", "values": [0, 2.5, 5, 7.5, 10, 12.5], "labelExpr": "datum.value % 5 === 0 ? datum.label : ''"}},
  "size": {"field": "density", "type": "quantitative", "scale": {"type": "pow", "exponent": 0.5, "domain": [0, 0.45], "range": [0, 20], "clamp": true}, "legend": null},
  "color": {"field": "s", "type": "nominal", "scale": {"domain": ["p0","p1","n0","n1"], "range": ["#fad1d2","#dbefdb","#d7e5f1","#eadced"]}, "legend": null}
 }},
{"data": {"name": "pts"}, "transform": [{"filter": "datum.r === 4"}, {"flatten": ["v"]}, {"window": [{"op": "row_number", "as": "i"}], "groupby": ["k"]}, {"window": [{"op": "percent_rank", "as": "j"}], "groupby": ["k"], "sort": [{"field": "i", "order": "ascending"}]}],
 "mark": {"type": "circle", "size": 24, "opacity": 0.45},
 "encoding": {
  "x": {"field": "k", "type": "nominal", "axis": null},
  "xOffset": {"field": "j", "type": "quantitative", "scale": {"domain": [0, 1], "range": [-2.5, 13.6]}},
  "y": {"field": "v", "type": "quantitative"},
  "color": {"field": "s", "type": "nominal", "scale": {"domain": ["p0","p1","n0","n1"], "range": ["#e41a1c","#4daf4a","#377eb8","#984ea3"]}, "legend": null}
 }},
{"data": {"name": "pts"}, "transform": [{"filter": "datum.r === 4"}, {"flatten": ["v"]}],
 "mark": {"type": "tick", "color": "#000", "size": 13, "thickness": 3, "opacity": 1},
 "encoding": {"x": {"field": "k", "type": "nominal", "axis": null}, "y": {"aggregate": "median", "field": "v", "type": "quantitative"}}},
{"data": {"name": "sig"}, "transform": [{"filter": "datum.r === 4"}],
 "mark": {"type": "rule", "color": "#000", "strokeWidth": 1.3},
 "encoding": {"x": {"field": "a", "type": "nominal", "axis": null}, "x2": {"field": "b"}, "y": {"datum": 13.75}}},
{"data": {"name": "sig"}, "transform": [{"filter": "datum.r === 4"}],
 "mark": {"type": "rule", "color": "#000", "strokeWidth": 1.3},
 "encoding": {"x": {"field": "a", "type": "nominal", "axis": null}, "y": {"datum": 13.75}, "y2": {"datum": 13.33}}},
{"data": {"name": "sig"}, "transform": [{"filter": "datum.r === 4"}],
 "mark": {"type": "rule", "color": "#000", "strokeWidth": 1.3},
 "encoding": {"x": {"field": "b", "type": "nominal", "axis": null}, "y": {"datum": 13.75}, "y2": {"datum": 13.33}}},
{"data": {"name": "sig"}, "transform": [{"filter": "datum.r === 4"}],
 "mark": {"type": "text", "font": "DejaVu Sans", "fontSize": 18, "baseline": "alphabetic", "color": "#111"},
 "encoding": {"x": {"field": "m", "type": "nominal", "axis": null}, "y": {"datum": 13.62}, "text": {"field": "t"}}},
{"data": {"name": "genes"}, "transform": [{"filter": "datum.r === 4"}],
 "mark": {"type": "text", "fontSize": 18, "fontStyle": "italic", "baseline": "alphabetic", "color": "#111"},
 "encoding": {"x": {"field": "k", "type": "nominal", "axis": null}, "y": {"datum": 15.22}, "text": {"field": "g"}}},
{"data": {"values": [{}]},
 "mark": {"type": "point", "shape": "M-0.84,-0.358H0.84Q1,-0.358 1,-0.198V0.198Q1,0.358 0.84,0.358H-0.84Q-1,0.358 -1,0.198V-0.198Q-1,-0.358 -0.84,-0.358Z", "size": 21904, "filled": true, "color": "#e6e6e6", "opacity": 1, "strokeWidth": 0},
 "encoding": {"x": {"datum": "1d", "axis": null}, "y": {"datum": 1.03}}},
{"data": {"values": [{}]},
 "mark": {"type": "text", "text": "EBV+ Virus–", "fontSize": 15, "align": "right", "baseline": "middle", "color": "#111"},
 "encoding": {"x": {"datum": "2b_", "axis": null}, "y": {"datum": 2.22}}},
{"data": {"values": [{}]},
 "mark": {"type": "text", "text": "T-cell", "fontSize": 15, "align": "left", "baseline": "middle", "dx": 1, "color": "#111"},
 "encoding": {"x": {"datum": "1a", "axis": null}, "y": {"datum": 1.2}}},
{"data": {"values": [{}]},
 "mark": {"type": "text", "text": "T-cell", "fontSize": 15, "align": "left", "baseline": "middle", "dx": 1, "color": "#111"},
 "encoding": {"x": {"datum": "1a", "axis": null}, "y": {"datum": 0.11}}},
{"data": {"values": [{}]},
 "mark": {"type": "text", "text": "Low", "fontSize": 10, "align": "left", "baseline": "middle", "dx": 5, "color": "#111"},
 "encoding": {"x": {"datum": "1b_", "axis": null}, "y": {"datum": 0.9}}},
{"data": {"values": [{}]},
 "mark": {"type": "text", "text": "High", "fontSize": 10, "align": "left", "baseline": "middle", "dx": 5, "color": "#111"},
 "encoding": {"x": {"datum": "1b_", "axis": null}, "y": {"datum": -0.19}}},
{"data": {"values": [{}]}, "mark": {"type": "circle", "size": 110, "color": "#e41a1c", "opacity": 1},
 "encoding": {"x": {"datum": "1d", "axis": null}, "y": {"datum": 1.2}}},
{"data": {"values": [{}]}, "mark": {"type": "circle", "size": 110, "color": "#377eb8", "opacity": 1},
 "encoding": {"x": {"datum": "2a_", "axis": null}, "y": {"datum": 1.2}}},
{"data": {"values": [{}]}, "mark": {"type": "circle", "size": 110, "color": "#4daf4a", "opacity": 1},
 "encoding": {"x": {"datum": "1d", "axis": null}, "y": {"datum": 0.11}}},
{"data": {"values": [{}]}, "mark": {"type": "circle", "size": 110, "color": "#984ea3", "opacity": 1},
 "encoding": {"x": {"datum": "2a_", "axis": null}, "y": {"datum": 0.11}}}
]
}
],
"config": {
 "view": {"stroke": null},
 "font": "Liberation Sans",
 "axisY": {"grid": true, "gridColor": "#e6e6e6", "gridWidth": 1, "domain": false, "ticks": false, "labelFontSize": 18, "labelColor": "#1a1a1a", "labelPadding": 12, "titleFontSize": 18, "titleFontWeight": "normal", "titleColor": "#1a1a1a", "titlePadding": 15, "titleY": 147}
}
}
